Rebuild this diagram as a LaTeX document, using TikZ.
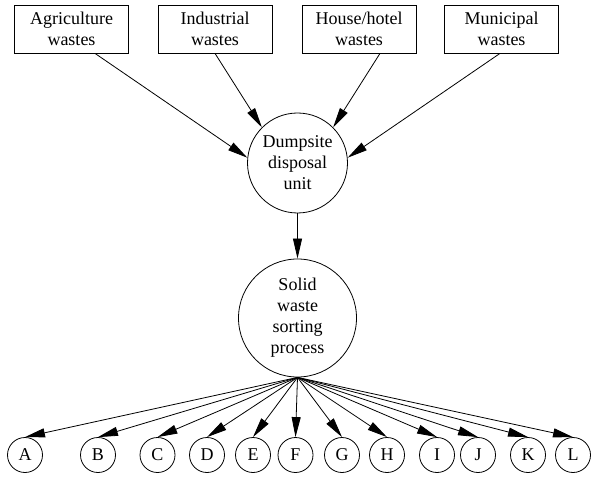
\documentclass[tikz,border=0pt]{standalone}
\usepackage{fontspec}
\setmainfont{Liberation Serif}
\usetikzlibrary{arrows.meta}
\begin{document}
\begin{tikzpicture}[x=1pt,y=-1pt,
  every node/.style={font=\fontsize{18}{21}\selectfont, align=center},
  srcbox/.style={draw, line width=0.8pt, minimum width=114pt, minimum height=48pt, inner sep=0pt},
  hub/.style={draw, circle, line width=0.8pt, inner sep=0pt},
  leaf/.style={draw, circle, line width=0.8pt, minimum size=35pt, inner sep=0pt},
  flow/.style={line width=0.8pt, -{Triangle[length=20pt,width=9pt]}}]
\useasboundingbox (0,0) rectangle (591,478);

% waste sources
\node[srcbox] (agri) at (71.5,29)  {Agriculture\\wastes};
\node[srcbox] (ind)  at (215,29)   {Industrial\\wastes};
\node[srcbox] (house) at (359,29)  {House/hotel\\wastes};
\node[srcbox] (muni) at (501.5,29) {Municipal\\wastes};

% central units
\node[hub, minimum size=100pt] (dump) at (297.5,163) {Dumpsite\\disposal\\unit};
\node[hub, minimum size=118pt] (sort) at (297.5,318) {Solid\\waste\\sorting\\process};

% sorted fractions
\foreach \name/\xpos in {A/25, B/98, C/157.5, D/207, E/253, F/295.5, G/342, H/387, I/437, J/478, K/528, L/573}
  \node[leaf] (\name) at (\xpos,455) {\name};

% inflow
\draw[flow] ([xshift=23.5pt]agri.south) -- (dump.174);
\draw[flow] (ind.south) -- (dump.135);
\draw[flow] ([xshift=21pt]house.south) -- (dump.45);
\draw[flow] ([xshift=-1.5pt]muni.south) -- (dump.6);
\draw[flow] (dump.south) -- (sort.north);

% outflow fan
\foreach \name in {A,B,C,D,E,F,G,H,I,J,K,L}
  \draw[flow] (sort.south) -- (\name.north);
\end{tikzpicture}
\end{document}
